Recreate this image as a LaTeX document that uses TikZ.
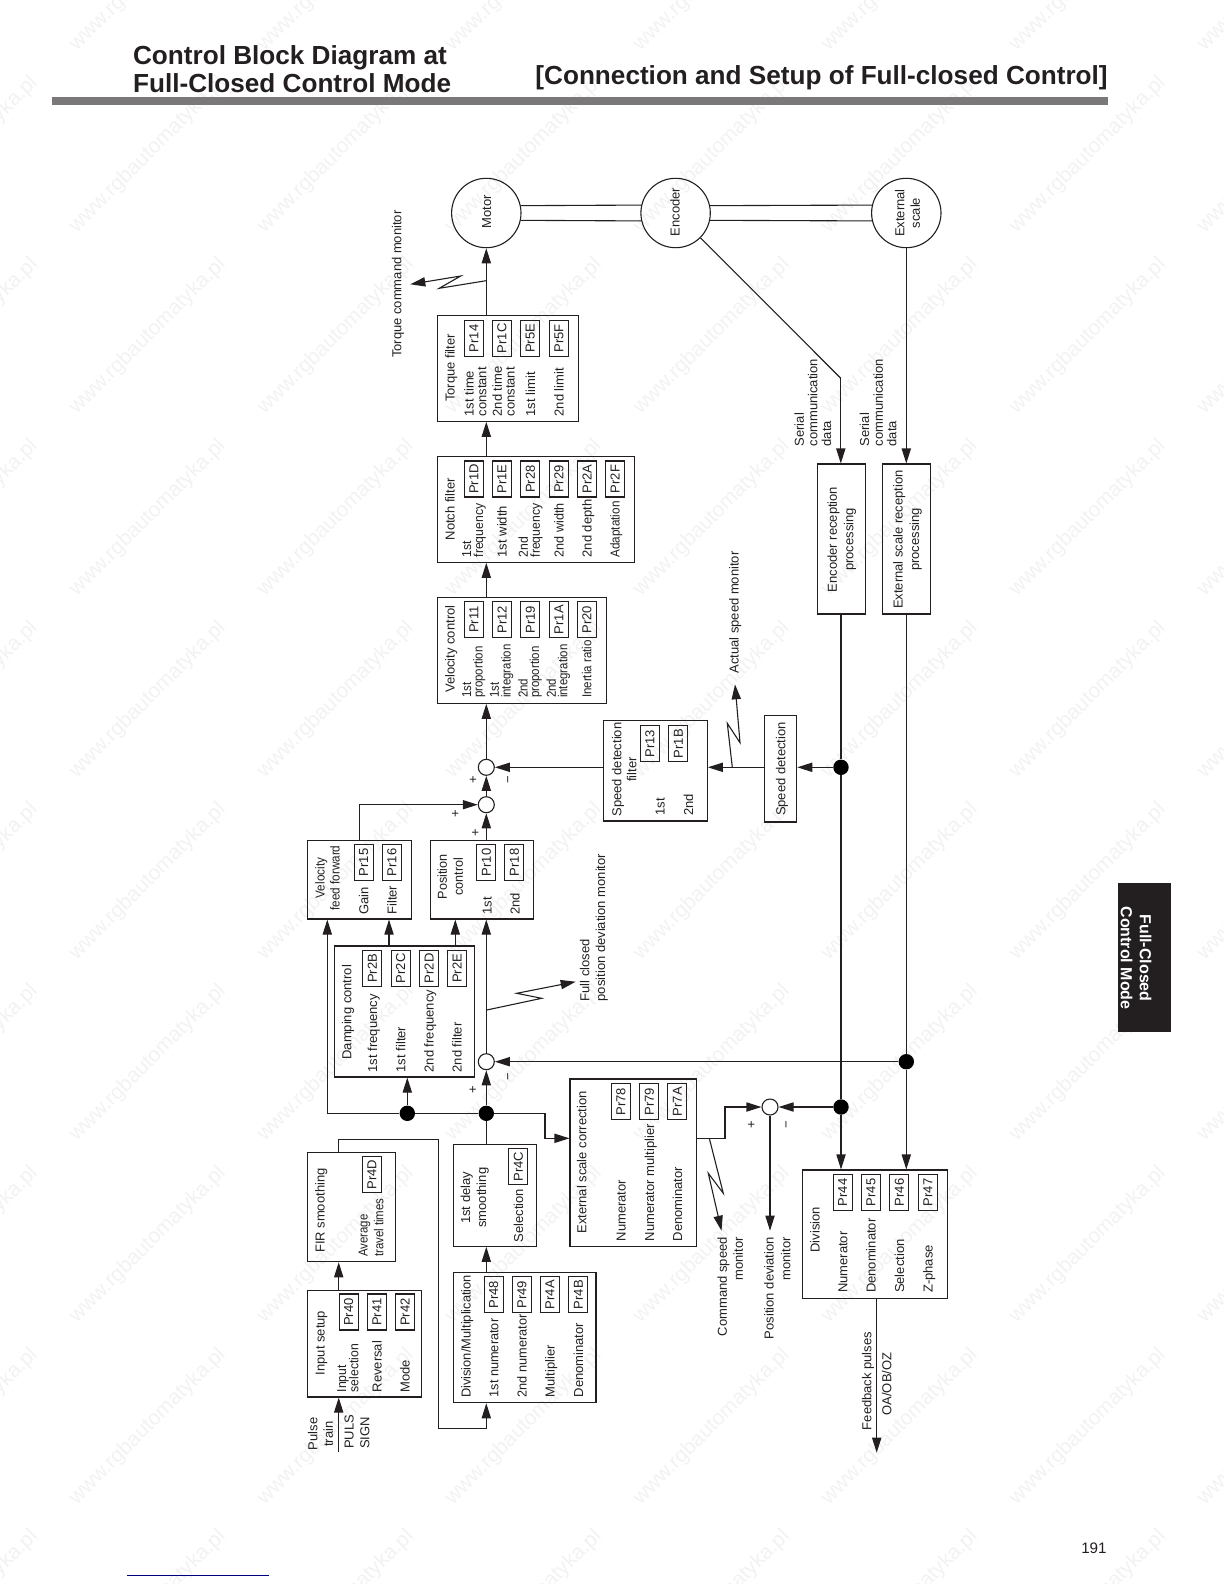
\documentclass[tikz,border=0pt]{standalone}
\usepackage{fontspec}
\setmainfont{Liberation Sans}
\usetikzlibrary{arrows.meta,calc}
\definecolor{ink}{HTML}{231F20}
\definecolor{barc}{HTML}{7A7878}
\newcount\lblc
\tikzset{
  blk/.style={draw=ink,line width=0.55pt,inner sep=0pt},
  prbox/.style={draw=ink,line width=0.55pt,inner sep=0pt,rotate=90,minimum width=18pt,minimum height=9.6pt,text=ink,font=\fontsize{6.5pt}{8pt}\selectfont},
  lab/.style={inner sep=0pt,rotate=90,text=ink,text height=4.7pt,text depth=0pt,font=\fontsize{6.5pt}{8pt}\selectfont},
  sumc/.style={circle,draw=ink,fill=white,line width=0.55pt,minimum size=8pt,inner sep=0pt},
  dotc/.style={circle,fill=black,minimum size=7.7pt,inner sep=0pt},
  bigc/.style={circle,draw=ink,line width=0.55pt,minimum size=34.7pt,inner sep=0pt},
  ln/.style={draw=ink,line width=0.55pt},
  arr/.style={ln,-{Triangle[length=7.5pt,width=4.6pt]}},
  wm/.style={rotate=45,inner sep=0pt,text=black!5,font=\fontsize{10.5pt}{12pt}\selectfont},
}
\newcommand\bx[5]{\pgfmathsetmacro\bw{(#4-#2)*0.5}\pgfmathsetmacro\bh{(#5-#3)*0.5}\node[blk,minimum width=\bw pt,minimum height=\bh pt] (#1) at ({(#2+#4)/2},{(#3+#5)/2}) {};}
\newcommand\pr[3]{\node[prbox] (#3) at (#1,#2) {#3};}
\newcommand\lbl[5][1]{\global\advance\lblc by 1 \node[lab,xscale=#1,anchor=#4] (t\the\lblc) at (#2,#3) {#5};}
\newcommand\lbm[7][1]{\global\advance\lblc by 1 \node[inner sep=0pt,rotate=90,xscale=#1,text=ink,anchor=#4,align=#5,font=\fontsize{6.5pt}{#6pt}\selectfont] (t\the\lblc) at (#2,#3) {#7};}
\begin{document}
\begin{tikzpicture}[x=0.5pt,y=-0.5pt]
\path[use as bounding box] (0,0) rectangle (1224,1584);
\clip (0,0) rectangle (1224,1584);
% watermark
\foreach \i in {0,...,7}{\foreach \j in {-1,...,8}{
  \node[wm] (wm\i x\j) at ({-40.3+188*\i},{154.7+181.7*\j}) {www.rgbautomatyka.pl};
}}
% header
\fill[barc] (52.3,97.3) rectangle (1108,104.7);
\node[inner sep=0pt,anchor=west,align=left,text=ink,font=\fontsize{13.07pt}{14.2pt}\selectfont\bfseries] (title) at (132.7,69) {Control Block Diagram at\\Full-Closed Control Mode};
\node[inner sep=0pt,anchor=base east,text=ink,font=\fontsize{13.07pt}{14.2pt}\selectfont\bfseries] (section) at (1108,85) {[Connection and Setup of Full-closed Control]};
% side tab
\node[fill=ink,inner sep=0pt,minimum width=26.5pt,minimum height=74.5pt] (tab) at (1144.8,957.8) {};
\node[inner sep=0pt,rotate=-90,text=white,align=center,font=\fontsize{8pt}{9.5pt}\selectfont\bfseries] (tabt) at (1136,958) {Full-Closed\\Control Mode};
% footer
\node[inner sep=0pt,anchor=base east,text=ink,font=\fontsize{7.6pt}{9pt}\selectfont] (page) at (1107,1553) {191};
\coordinate (blA) at (127.3,1575.7);
\coordinate (blB) at (269,1575.7);
\draw[line width=0.6pt,color=blue!50!black] (blA) -- (blB);
% machines
\node[bigc] (motor) at (486.3,213) {};
\node[bigc] (encoder) at (675.6,213) {};
\node[bigc] (scale) at (906.3,213) {};
\lbl{486.5}{212}{center}{Motor}
\lbl{675}{212}{center}{Encoder}
\lbm{907.5}{213}{center}{center}{7.75}{External\\scale}
\draw[ln] (motor.12.5) -- (encoder.167.5);
\draw[ln] (motor.-12.5) -- (encoder.-167.5);
\draw[ln] (encoder.12.5) -- (scale.167.5);
\draw[ln] (encoder.-12.5) -- (scale.-167.5);
% boxes
\bx{tq}{437.3}{315.7}{578.3}{421.3}
\bx{nf}{437.3}{456.7}{634.3}{562.3}
\bx{vc}{437.3}{597.3}{606.3}{703.3}
\bx{sdf}{603.7}{720.7}{707.3}{821}
\bx{sd}{764.7}{715.7}{796.7}{822}
\bx{encr}{817.7}{464}{865.7}{614}
\bx{extr}{882.3}{464}{930.3}{614}
\bx{vff}{307.3}{840.3}{411.3}{919}
\bx{pos}{430.3}{840.3}{533.7}{919}
\bx{damp}{334.7}{946}{474.3}{1077}
\bx{ext}{570}{1079}{696.7}{1246.3}
\bx{fbd}{802.7}{1170}{947.3}{1298.3}
\bx{fir}{307.3}{1152.3}{395.3}{1261.7}
\bx{dly}{453.7}{1144.7}{536.7}{1246.3}
\bx{inp}{307.3}{1290.7}{421.7}{1397}
\bx{dvm}{453.7}{1272.3}{596}{1402.7}
% parameter boxes
\pr{474}{338.3}{Pr14}\pr{502}{338.3}{Pr1C}\pr{530.3}{338.3}{Pr5E}\pr{559}{338.3}{Pr5F}
\pr{474}{479}{Pr1D}\pr{502}{479}{Pr1E}\pr{530.3}{479}{Pr28}\pr{559}{479}{Pr29}\pr{587}{479}{Pr2A}\pr{615}{479}{Pr2F}
\pr{474}{619.7}{Pr11}\pr{502}{619.7}{Pr12}\pr{530.3}{619.7}{Pr19}\pr{559}{619.7}{Pr1A}\pr{587}{619.7}{Pr20}
\pr{650}{743.7}{Pr13}\pr{678.3}{743.7}{Pr1B}
\pr{363.7}{862.3}{Pr15}\pr{392}{862.3}{Pr16}
\pr{486.3}{862.3}{Pr10}\pr{514.3}{862.3}{Pr18}
\pr{372.3}{968.3}{Pr2B}\pr{400.7}{968.3}{Pr2C}\pr{429}{968.3}{Pr2D}\pr{457}{968.3}{Pr2E}
\pr{621}{1101.7}{Pr78}\pr{649.3}{1101.7}{Pr79}\pr{677.3}{1101.7}{Pr7A}
\pr{842.7}{1192.3}{Pr44}\pr{871}{1192.3}{Pr45}\pr{899.3}{1192.3}{Pr46}\pr{928}{1192.3}{Pr47}
\pr{372}{1174.7}{Pr4D}
\pr{518.3}{1166.7}{Pr4C}
\pr{348.7}{1312}{Pr40}\pr{377}{1312}{Pr41}\pr{405}{1312}{Pr42}
\pr{493.7}{1294.7}{Pr48}\pr{522}{1294.7}{Pr49}\pr{550}{1294.7}{Pr4A}\pr{578.3}{1294.7}{Pr4B}
% text in boxes
\lbl{450}{402.3}{west}{Torque filter}
\lbm{475.3}{416.7}{west}{left}{6.3}{1st time\\constant}
\lbm{503.6}{416.7}{west}{left}{6.3}{2nd time\\constant}
\lbl{530.3}{416.7}{west}{1st limit}
\lbl{559}{416.7}{west}{2nd limit}
\lbl{450}{540.7}{west}{Notch filter}
\lbm[0.94]{474}{557.7}{west}{left}{6}{1st\\frequency}
\lbl{502}{557.7}{west}{1st width}
\lbm[0.94]{530.5}{557.7}{west}{left}{6}{2nd\\frequency}
\lbl[0.97]{559}{557.7}{west}{2nd width}
\lbl{587}{557.7}{west}{2nd depth}
\lbl[0.9]{615}{557.7}{west}{Adaptation}
\lbl{450}{693.3}{west}{Velocity control}
\lbm[0.88]{473.8}{698.3}{west}{left}{5.8}{1st\\proportion}
\lbm[0.88]{501.6}{698.3}{west}{left}{5.8}{1st\\integration}
\lbm[0.88]{530}{698.3}{west}{left}{5.8}{2nd\\proportion}
\lbm[0.88]{558.2}{698.3}{west}{left}{5.8}{2nd\\integration}
\lbl[0.885]{586.7}{698.3}{west}{Inertia ratio}
\lbm{624.2}{769.5}{center}{center}{7.5}{Speed detection\\filter}
\lbl{660}{816}{west}{1st}
\lbl{688.3}{816}{west}{2nd}
\lbl{780.7}{769}{center}{Speed detection}
\lbm{841.7}{539.5}{center}{center}{8.3}{Encoder reception\\processing}
\lbm{907.5}{539.5}{center}{center}{8.2}{External scale reception\\processing}
\lbm[0.9]{327.5}{878}{center}{center}{7.5}{Velocity\\feed forward}
\lbl{363.7}{915}{west}{Gain}
\lbl{392}{915}{west}{Filter}
\lbm[0.97]{450.3}{876.7}{center}{center}{8}{Position\\control}
\lbl{487}{915}{west}{1st}
\lbl{515}{915}{west}{2nd}
\lbl{346.7}{1060}{west}{Damping control}
\lbl{372.3}{1072.7}{west}{1st frequency}
\lbl{400.7}{1072.7}{west}{1st filter}
\lbl{429}{1072.7}{west}{2nd frequency}
\lbl{457}{1072.7}{west}{2nd filter}
\lbl{581.7}{1234}{west}{External scale correction}
\lbl{621}{1241.7}{west}{Numerator}
\lbl{649.3}{1241.7}{west}{Numerator multiplier}
\lbl{677.3}{1241.7}{west}{Denominator}
\lbl{815}{1253}{west}{Division}
\lbl{842.7}{1293.3}{west}{Numerator}
\lbl{871}{1293.3}{west}{Denominator}
\lbl{899.3}{1293.3}{west}{Selection}
\lbl{928}{1293.3}{west}{Z-phase}
\lbl{320}{1253.3}{west}{FIR smoothing}
\lbm[0.88]{371}{1257.3}{west}{left}{7.85}{Average\\travel times}
\lbm{474.7}{1197.7}{center}{center}{8}{1st delay\\smoothing}
\lbl{518.3}{1242.7}{west}{Selection}
\lbl{320}{1343}{center}{Input setup}
\lbm[0.94]{347.8}{1392.7}{west}{left}{6.15}{Input\\selection}
\lbl{377}{1392.7}{west}{Reversal}
\lbl{405}{1392.7}{west}{Mode}
\lbl[0.99]{466}{1398.3}{west}{Division/Multiplication}
\lbl[0.98]{493.7}{1397.7}{west}{1st numerator}
\lbl[0.98]{522}{1397.7}{west}{2nd numerator}
\lbl{550}{1397.7}{west}{Multiplier}
\lbl{578.3}{1397.7}{west}{Denominator}
% free text
\lbm{320.5}{1434}{center}{center}{7.8}{Pulse\\train}
\lbm{357}{1449.3}{west}{left}{7.85}{PULS\\SIGN}
\lbl{396.6}{358.3}{west}{Torque command monitor}
\lbl{734}{674}{west}{Actual speed monitor}
\lbm{812.8}{446.7}{west}{left}{6.85}{Serial\\communication\\data}
\lbm{878.1}{446.7}{west}{left}{6.85}{Serial\\communication\\data}
\lbm{593.8}{1001.7}{west}{left}{7.85}{Full closed\\position deviation monitor}
\lbm{730.3}{1236.7}{east}{right}{8}{Command speed\\monitor}
\lbm{777.3}{1236.7}{east}{right}{8.3}{Position deviation\\monitor}
\lbl{866.7}{1381}{center}{Feedback pulses}
\lbl{886.7}{1384}{center}{OA/OB/OZ}
% signs
\lbl{472.7}{779.3}{center}{+}
\lbl{507.3}{779.3}{center}{−}
\lbl{455}{813.3}{center}{+}
\lbl{475}{832.3}{center}{+}
\lbl{472.3}{1089.7}{center}{+}
\lbl{507.3}{1076.7}{center}{−}
\lbl{751}{1124.3}{center}{+}
\lbl{785.7}{1125}{center}{−}
% junctions
\node[sumc] (sum1) at (486.3,1061.7) {};
\node[sumc] (sum2) at (486.3,804.7) {};
\node[sumc] (sum3) at (486.3,767.3) {};
\node[sumc] (sum4) at (770,1107) {};
\node[dotc] (dot1) at (486.3,1113.3) {};
\node[dotc] (dot2) at (407.3,1113.3) {};
\node[dotc] (dot3) at (841,1107) {};
\node[dotc] (dot4) at (841,767.3) {};
\node[dotc] (dot5) at (906.3,1061.7) {};
% helper points
\coordinate (pt) at (338.7,1451.7);
\coordinate (c1) at (438.3,1139.3);
\coordinate (c2) at (486.3,1428.3);
\coordinate (c3) at (327.3,1113.3);
\coordinate (c4) at (359.3,804.7);
\coordinate (c5) at (545,1138.3);
\coordinate (c6) at (725,1138.3);
\coordinate (xa) at (389,930);
\coordinate (xb) at (455.3,930);
\coordinate (enck) at (840.8,378.3);
\coordinate (pdm) at (770,1230.7);
\coordinate (fbx) at (876.7,1298.3);
\coordinate (fbe) at (876.7,1452.7);
% connectors
\draw[arr] (pt) -- (inp.south -| pt);
\draw[arr] (inp.north -| pt) -- (fir.south -| pt);
\draw[arr] (fir.north -| pt) |- (c1) |- (c2) -- (dvm.south -| c2);
\draw[arr] (dvm.north -| dot1) -- (dly.south -| dot1);
\draw[ln] (dly.north -| dot1) -- (dot1);
\draw[arr] (dot1) -- (sum1);
\draw[arr] (sum1) -- (pos.south -| sum1);
\draw[arr] (pos.north -| sum2) -- (sum2);
\draw[arr] (sum2) -- (sum3);
\draw[arr] (sum3) -- (vc.south -| sum3);
\draw[arr] (vc.north -| sum3) -- (nf.south -| sum3);
\draw[arr] (nf.north -| sum3) -- (tq.south -| sum3);
\draw[arr] (tq.north -| sum3) -- (motor);
\draw[ln] (dot1) -- (dot2);
\draw[arr] (dot2) -- (damp.south -| dot2);
\draw[arr] (dot2) -- (c3) -- (vff.south -| c3);
\draw[arr] (damp.north -| xa) -- (vff.south -| xa);
\draw[arr] (damp.north -| xb) -- (pos.south -| xb);
\draw[arr] (vff.north -| c4) |- (sum2);
\draw[arr] (dot1) -| (c5) -- (ext.west |- c5);
\draw[arr] (ext.east |- c6) -- (c6) |- (sum4);
\draw[arr] (dot3) -- (sum4);
\draw[arr] (sum4) -- (pdm);
\draw[ln] (encoder.-45) -- (enck);
\draw[arr] (enck) -- (encr.north -| enck);
\draw[ln] (encr.south -| dot4) -- (dot4);
\draw[ln] (dot4) -- (dot3);
\draw[arr] (dot3) -- (fbd.north -| dot3);
\draw[arr] (dot4) -- (sd.east |- dot4);
\draw[arr] (sd.west |- dot4) -- (sdf.east |- dot4);
\draw[arr] (sdf.west |- dot4) -- (sum3);
\draw[arr] (scale) ++(0,34.7) -- (extr.north -| scale);
\draw[ln] (extr.south -| dot5) -- (dot5);
\draw[arr] (dot5) -- (sum1);
\draw[arr] (dot5) -- (fbd.north -| dot5);
\draw[arr] (fbx) -- (fbe);
% monitor branches
\coordinate (zT0) at (486.2,280.7);\coordinate (zT1) at (439.2,288.3);\coordinate (zT2) at (460.7,276);\coordinate (zT3) at (410.3,284.3);
\draw[arr] (zT0) -- (zT1) -- (zT2) -- (zT3);
\coordinate (zF0) at (486.7,1010);\coordinate (zF1) at (541.7,998.3);\coordinate (zF2) at (516.7,993.3);\coordinate (zF3) at (575.7,981.7);
\draw[arr] (zF0) -- (zF1) -- (zF2) -- (zF3);
\coordinate (zA0) at (732.3,767.3);\coordinate (zA1) at (727.3,723.3);\coordinate (zA2) at (740,742.7);\coordinate (zA3) at (735,684.3);
\draw[arr] (zA0) -- (zA1) -- (zA2) -- (zA3);
\coordinate (zC0) at (709.3,1138.3);\coordinate (zC1) at (723.3,1193.3);\coordinate (zC2) at (708.3,1173.3);\coordinate (zC3) at (721.5,1230.7);
\draw[arr] (zC0) -- (zC1) -- (zC2) -- (zC3);
\end{tikzpicture}
\end{document}
